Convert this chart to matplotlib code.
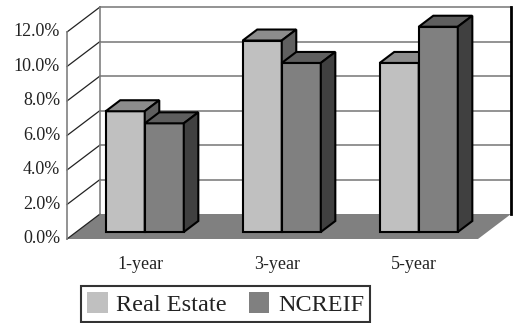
import numpy as np
import matplotlib
matplotlib.use('Agg')
import matplotlib.pyplot as plt
from matplotlib.patches import Polygon, Patch

# Data
categories = ['1-year', '3-year', '5-year']
real_estate = [7.0, 11.1, 9.8]
ncreif = [6.3, 9.8, 11.9]
y_ticks = [0, 2, 4, 6, 8, 10, 12]
tick_labels = ['0.0%', '2.0%', '4.0%', '6.0%', '8.0%', '10.0%', '12.0%']

plt.rcParams['font.family'] = ['Liberation Serif', 'DejaVu Serif']
txt_col = '#222222'

fig = plt.figure(figsize=(5.15, 3.23), dpi=100)
ax = fig.add_axes([0, 0, 1, 1])
ax.set_xlim(-0.489, 3.270)
ax.set_ylim(-4.87, 13.855)
ax.axis('off')

# depth of the fake 3d box (x in category units, y in percent)
DX, DY = 0.241, 1.449
ymax = 12

# floor
ax.add_patch(Polygon([(0, 0), (3, 0), (3 + DX, DY), (DX, DY)],
                     closed=True, facecolor='#808080', edgecolor='none', zorder=1))
# back wall + gridlines
ax.add_patch(Polygon([(DX, DY), (3 + DX, DY), (3 + DX, ymax + DY), (DX, ymax + DY)],
                     closed=True, facecolor='white', edgecolor='none', zorder=0))
for v in y_ticks[1:]:
    ax.plot([DX, 3 + DX], [v + DY, v + DY], color='#808080', lw=1.2, zorder=1)
    ax.plot([0, DX], [v, v + DY], color='#222222', lw=0.9, zorder=1)
ax.plot([0, DX], [0, DY], color='#222222', lw=0.9, zorder=1)
ax.plot([DX, DX], [DY, ymax + DY], color='#808080', lw=1.2, zorder=1)
ax.plot([0, 0], [0, ymax], color='#808080', lw=1.2, zorder=1)
ax.plot([3 + DX, 3 + DX], [DY, ymax + DY], color='black', lw=2.0, zorder=1)

# y tick labels
for v, lab in zip(y_ticks, tick_labels):
    ax.text(-0.051, v, lab, ha='right', va='center', fontsize=13, color=txt_col)

# bars
bw = 0.285
d0, d1 = 0.28, 0.72
fx, fy = DX * d0, DY * d0
bx, by = DX * (d1 - d0), DY * (d1 - d0)
series = [(real_estate, '#c0c0c0', '#8c8c8c', '#606060'),
          (ncreif, '#808080', '#5e5e5e', '#404040')]
for i in range(len(categories)):
    for j, (vals, cf, ct, cs) in enumerate(series):
        left = i + 0.5 - bw + j * bw + fx
        h = vals[i]
        ax.bar(left, h, width=bw, bottom=fy, align='edge', color=cf,
               edgecolor='black', linewidth=1.5, zorder=3)
        top = [(left, fy + h), (left + bw, fy + h), (left + bw + bx, fy + h + by), (left + bx, fy + h + by)]
        ax.add_patch(Polygon(top, closed=True, facecolor=ct, edgecolor='black', lw=1.5, zorder=3))
        side = [(left + bw, fy), (left + bw + bx, fy + by), (left + bw + bx, fy + h + by), (left + bw, fy + h)]
        ax.add_patch(Polygon(side, closed=True, facecolor=cs, edgecolor='black', lw=1.5, zorder=3))

# category labels
for i, c in enumerate(categories):
    ax.text(i + 0.535, -1.507, c, ha='center', va='center', fontsize=13, color=txt_col)

handles = [Patch(facecolor='#c0c0c0', edgecolor='none', label='Real Estate'),
           Patch(facecolor='#808080', edgecolor='none', label='NCREIF')]
leg = fig.legend(handles=handles, ncol=2, loc='lower left',
                 bbox_to_anchor=(81 / 515, 1 / 323),
                 prop={'family': 'Liberation Serif', 'size': 17.5},
                 frameon=True, fancybox=False, handlelength=0.85, handleheight=0.9,
                 handletextpad=0.35, columnspacing=0.9, borderpad=0.25,
                 borderaxespad=0)
leg.get_frame().set_edgecolor('black')
leg.get_frame().set_linewidth(1.5)
for t in leg.get_texts():
    t.set_color(txt_col)

fig.savefig('out.png', dpi=100)
